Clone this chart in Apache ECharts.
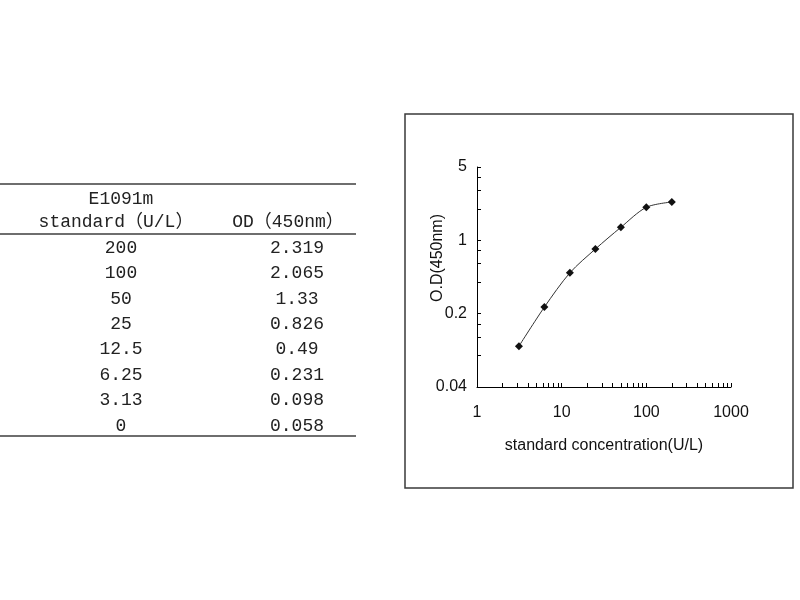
<!DOCTYPE html>
<html>
<head>
<meta charset="utf-8">
<script src="https://cdn.jsdelivr.net/npm/echarts@6/dist/echarts.min.js"></script>
<style>html,body{margin:0;padding:0;background:#fff}#c{width:800px;height:600px}</style>
</head>
<body>
<div id="c"></div>
<script>
// ---- data ----
var tableTitle = 'E1091m';
var colHeaders = ['standard\uFF08U/L\uFF09', 'OD\uFF08450nm\uFF09'];
var concLabels = ['200', '100', '50', '25', '12.5', '6.25', '3.13', '0'];
var odLabels = ['2.319', '2.065', '1.33', '0.826', '0.49', '0.231', '0.098', '0.058'];
var concValues = [200, 100, 50, 25, 12.5, 6.25, 3.13, 0];
var odValues = [2.319, 2.065, 1.33, 0.826, 0.49, 0.231, 0.098, 0.058];
var xTickValues = [1, 2, 3, 4, 5, 6, 7, 8, 9, 10, 20, 30, 40, 50, 60, 70, 80, 90, 100, 200, 300, 400, 500, 600, 700, 800, 900, 1000];
var xLabelValues = [1, 10, 100, 1000];
var yTickValues = [0.04, 0.08, 0.12, 0.16, 0.2, 0.4, 0.6, 0.8, 1, 2, 3, 4, 5];
var yLabelValues = [0.04, 0.2, 1, 5];
var xName = 'standard concentration(U/L)';
var yName = 'O.D(450nm)';

// ---- build ----
var pts = [];
for (var i = 0; i < concValues.length; i++) {
  if (concValues[i] > 0) pts.push([concValues[i], odValues[i]]);
}
pts.sort(function (a, b) { return a[0] - b[0]; });

var tableFont = '"Liberation Mono", "Noto Sans CJK SC", monospace';
var graphic = [];
// frame around chart
graphic.push({ type: 'rect', shape: { x: 405, y: 114, width: 388, height: 374 }, style: { fill: 'none', stroke: '#3a3a3a', lineWidth: 1.5 }, z: 0 });
// table rules
[184, 234, 436].forEach(function (y) {
  graphic.push({ type: 'line', shape: { x1: 0, y1: y, x2: 356, y2: y }, style: { stroke: '#6e6e6e', lineWidth: 2 } });
});
function txt(s, x, y) {
  return { type: 'text', x: x, y: y, style: { text: s, font: '18px ' + tableFont, fill: '#222', align: 'center', verticalAlign: 'middle' } };
}
graphic.push(txt(tableTitle, 121, 199));
graphic.push(txt(colHeaders[0], 116, 222));
graphic.push(txt(colHeaders[1], 288, 222));
for (var r = 0; r < concLabels.length; r++) {
  var y = 248 + r * 25.4;
  graphic.push(txt(concLabels[r], 121, y));
  graphic.push(txt(odLabels[r], 297, y));
}

function plain(v) { return String(+(+v).toPrecision(6)); }

var chart = echarts.init(document.getElementById('c'));
chart.setOption({
  backgroundColor: '#fff',
  animation: false,
  grid: { left: 477, right: 69, top: 167, bottom: 213, containLabel: false },
  xAxis: {
    type: 'log', logBase: 10, min: 1, max: 1000,
    name: xName, nameLocation: 'middle', nameGap: 51, nameMoveOverlap: false,
    nameTextStyle: { fontSize: 16, color: '#111', fontFamily: 'Liberation Sans' },
    axisLine: { show: true, lineStyle: { color: '#000', width: 1 } },
    axisTick: { show: true, inside: true, length: 4, customValues: xTickValues, lineStyle: { color: '#000' } },
    axisLabel: { customValues: xLabelValues, fontSize: 16, color: '#111', margin: 18, fontFamily: 'Liberation Sans', formatter: plain },
    splitLine: { show: false }
  },
  yAxis: {
    type: 'log', logBase: 5, min: 0.04, max: 5,
    name: yName, nameLocation: 'middle', nameGap: 31, nameRotate: 90, nameMoveOverlap: false,
    nameTextStyle: { fontSize: 16, color: '#111', fontFamily: 'Liberation Sans', padding: [0, 0, 0, 38] },
    axisLine: { show: true, lineStyle: { color: '#000', width: 1 } },
    axisTick: { show: true, inside: true, length: 4, customValues: yTickValues, lineStyle: { color: '#000' } },
    axisLabel: { customValues: yLabelValues, fontSize: 16, color: '#111', margin: 10, fontFamily: 'Liberation Sans', formatter: plain },
    splitLine: { show: false }
  },
  series: [{
    type: 'line', data: pts, smooth: 0.3,
    symbol: 'diamond', symbolSize: 8,
    itemStyle: { color: '#111' },
    lineStyle: { color: '#333', width: 1 }
  }],
  graphic: graphic
});
</script>
</body>
</html>
